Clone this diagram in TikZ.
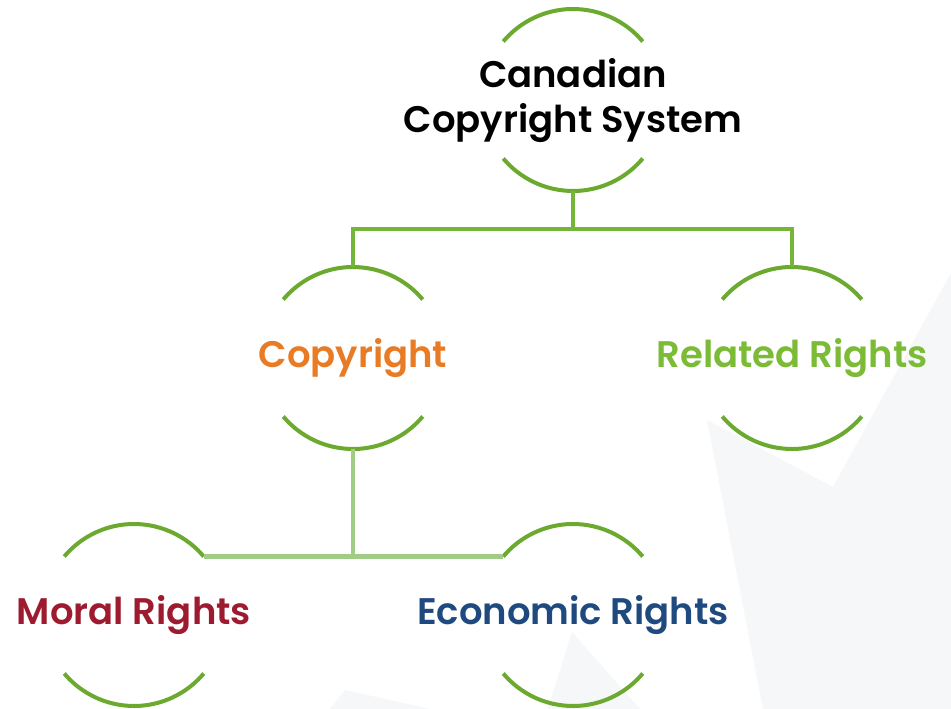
\documentclass[tikz,border=0pt]{standalone}
\usepackage{fontspec}
\setmainfont{Poppins}[BoldFont={Poppins SemiBold}]
\begin{document}
\begin{tikzpicture}[x=1pt,y=1pt,
  hub/.style={circle,minimum size=182pt,inner sep=0pt,outer sep=0pt},
  caption/.style={align=center,inner sep=0pt,
    font=\fontsize{37}{45}\selectfont\bfseries},
  ring/.style={draw=arcgreen,line width=4pt},
  trunk/.style={draw=trunkgreen,line width=4pt},
  twig/.style={draw=twiggreen},
  shade/.style={fill=wmgrey,draw=none}]
\definecolor{arcgreen}{HTML}{6BAA2F}
\definecolor{trunkgreen}{HTML}{74B63A}
\definecolor{twiggreen}{HTML}{A0CC86}
\definecolor{wmgrey}{HTML}{F6F7F9}
\definecolor{copyorange}{HTML}{E87B24}
\definecolor{relgreen}{HTML}{7BBB36}
\definecolor{moralred}{HTML}{9E1B2F}
\definecolor{econblue}{HTML}{1F4A80}
\useasboundingbox (0,0) rectangle (951,-709);
\fill[white] (0,0) rectangle (951,-709);
% faint background shapes
\fill[shade] (707,-420) -- (833,-487) -- (951,-273) -- (951,-709) -- (763,-709) -- cycle;
\fill[shade] (572,-632) -- (548,-709) -- (640,-709) -- cycle;
\fill[shade] (330,-709) -- (345,-690) -- (430,-709) -- cycle;
% ring nodes
\node[hub] (sys) at (573,-100) {};
\node[hub] (copy) at (353,-358) {};
\node[hub] (rel) at (792,-358) {};
\node[hub] (moral) at (134,-615) {};
\node[hub] (econ) at (573,-615) {};
% labels
\node[caption] (sysT) at (573,-101) {Canadian\\Copyright System};
\node[caption,text=copyorange] (copyT) at (353,-358) {Copyright};
\node[caption,text=relgreen] (relT) at (792,-358) {Related Rights};
\node[caption,text=moralred] (moralT) at (134,-615) {Moral Rights};
\node[caption,text=econblue] (econT) at (573,-615) {Economic Rights};
% split arcs around each label
\foreach \n in {sys,copy,rel,moral,econ}{
  \draw[ring] (\n.40) arc[start angle=40,end angle=140,radius=91pt];
  \draw[ring] (\n.220) arc[start angle=220,end angle=320,radius=91pt];
}
% connectors
\coordinate (fork) at (573,-229);
\draw[trunk] (sys.south) -- (fork);
\draw[trunk] (fork) -| (copy.north);
\draw[trunk] (fork) -| (rel.north);
\draw[twig,line width=4pt] (copy.south) -- (copy.south |- moral.40);
\draw[twig,line width=5pt] (moral.40) -- (econ.140);
\end{tikzpicture}
\end{document}
